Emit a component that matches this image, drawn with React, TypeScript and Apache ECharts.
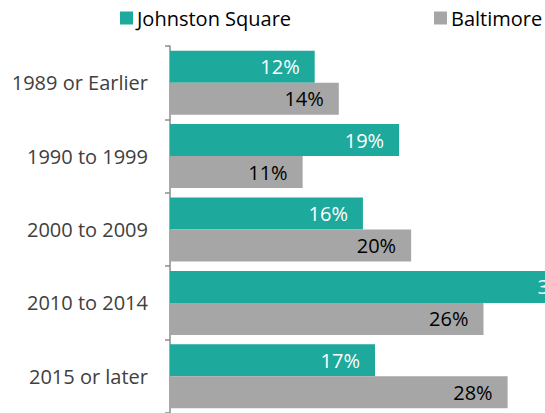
import React, { useEffect, useRef } from "react";
import * as echarts from "echarts";

const categories = ["1989 or Earlier", "1990 to 1999", "2000 to 2009", "2010 to 2014", "2015 or later"];
const johnstonSquare = [12, 19, 16, 35, 17];
const baltimore = [14, 11, 20, 26, 28];
const seriesNames = ["Johnston Square", "Baltimore"];

const TEAL = "#1da99b";
const GRAY = "#a6a6a6";
const FONT = "'Open Sans', 'Noto Sans', sans-serif";

export default function App() {
  const ref = useRef<HTMLDivElement>(null);
  useEffect(() => {
    if (!ref.current) return;
    const chart = echarts.init(ref.current, undefined, { renderer: "svg" });
    const labelBase = {
      show: true,
      position: "insideRight",
      distance: 15,
      fontSize: 20,
      fontFamily: FONT,
      formatter: (p: any) => p.value + "%",
    };
    const legendBase = {
      top: 8,
      padding: 0,
      icon: "rect",
      itemWidth: 13,
      itemHeight: 13,
      itemGap: 6,
      textStyle: { fontSize: 20, fontFamily: FONT, color: "#000", padding: [0, 0, 0, -1] },
      selectedMode: false,
    };
    chart.setOption({
      animation: false,
      legend: [
        { ...legendBase, data: [seriesNames[0]], left: 120 },
        { ...legendBase, data: [seriesNames[1]], left: 434 },
      ],
      grid: { left: 170, top: 46, right: 0, bottom: -2, containLabel: false },
      xAxis: {
        type: "value",
        min: 0,
        max: 31.1,
        show: false,
      },
      yAxis: {
        type: "category",
        data: categories,
        inverse: true,
        axisLine: { show: true, lineStyle: { color: "#8c8c8c", width: 1.5 } },
        axisTick: { show: true, length: 5, lineStyle: { color: "#8c8c8c", width: 1.5 } },
        axisLabel: { fontSize: 20, fontFamily: FONT, color: "#404040", margin: 22 },
        splitLine: { show: false },
      },
      series: [
        {
          name: seriesNames[0],
          type: "bar",
          data: johnstonSquare,
          barWidth: 32,
          barGap: "0%",
          clip: false,
          itemStyle: { color: TEAL },
          label: { ...labelBase, color: "#ffffff" },
        },
        {
          name: seriesNames[1],
          type: "bar",
          data: baltimore,
          barWidth: 32,
          barGap: "0%",
          clip: false,
          itemStyle: { color: GRAY },
          label: { ...labelBase, color: "#000000" },
        },
      ],
    });
    return () => chart.dispose();
  }, []);
  return (
    <div
      ref={ref}
      style={{ position: "fixed", left: 0, top: 0, width: 545, height: 413, overflow: "hidden", background: "#fff" }}
    />
  );
}
